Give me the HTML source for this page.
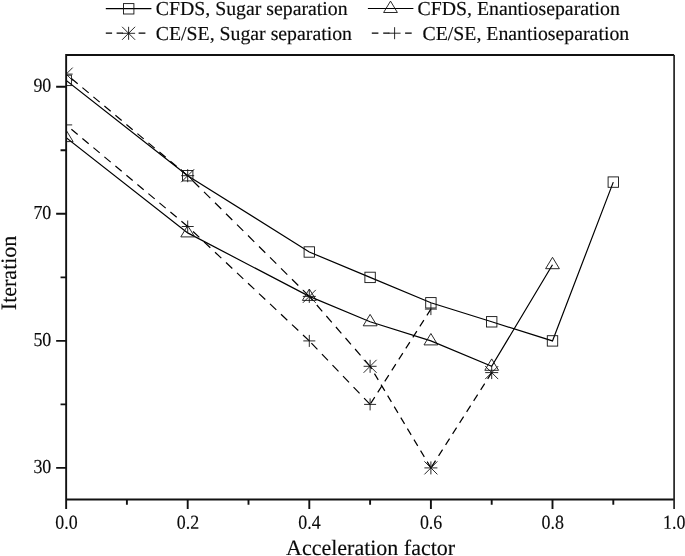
<!DOCTYPE html>
<html><head><meta charset="utf-8"><title>Iteration vs Acceleration factor</title>
<style>
html,body{margin:0;padding:0;background:#fff;}
body{width:685px;height:556px;overflow:hidden;}
svg{display:block;}
text{font-family:"Liberation Serif","Times New Roman",serif;fill:#0a0a0a;stroke:#0a0a0a;stroke-width:0.15px;text-rendering:geometricPrecision;}
.lg{font-size:19.8px;}
.tk{font-size:19.8px;}
.ax{font-size:22px;}
</style></head><body>
<svg width="685" height="556" viewBox="0 0 685 556">
<rect width="685" height="556" fill="#fff"/>

<defs><clipPath id="cp"><rect x="66.15" y="55.0" width="607.95" height="444.55"/></clipPath></defs>
<g clip-path="url(#cp)" fill="none" stroke="#000">
<g stroke-width="1.2">
<polyline points="66.2,80.4 187.7,175.7 309.3,252.0 370.1,277.4 430.9,302.8 491.7,321.8 552.5,340.9 613.3,182.1"/>
<polyline points="66.2,137.6 187.7,232.9 309.3,296.4 370.1,321.8 430.9,340.9 491.7,366.3 552.5,264.7"/>
<path d="M187.7 175.7L66.2 74.1" stroke-dasharray="8.21 6.13"/>
<path d="M309.3 296.4L187.7 175.7" stroke-dasharray="8.88 6.62"/>
<path d="M370.1 366.3L309.3 296.4" stroke-dasharray="8.35 6.23"/>
<path d="M430.9 467.9L370.1 366.3" stroke-dasharray="7.34 5.48"/>
<path d="M491.7 372.6L430.9 467.9" stroke-dasharray="7.47 5.58"/>
<path d="M187.7 226.5L66.2 124.9" stroke-dasharray="8.21 6.13"/>
<path d="M309.3 340.9L187.7 226.5" stroke-dasharray="8.65 6.45"/>
<path d="M370.1 404.4L309.3 340.9" stroke-dasharray="8.72 6.51"/>
<path d="M430.9 309.1L370.1 404.4" stroke-dasharray="7.47 5.58"/>
</g>
<g stroke-width="0.9" stroke="#111">
<rect x="61.0" y="75.2" width="10.4" height="10.4"/>
<rect x="182.5" y="170.5" width="10.4" height="10.4"/>
<rect x="304.1" y="246.8" width="10.4" height="10.4"/>
<rect x="364.9" y="272.2" width="10.4" height="10.4"/>
<rect x="425.7" y="297.6" width="10.4" height="10.4"/>
<rect x="486.5" y="316.6" width="10.4" height="10.4"/>
<rect x="547.3" y="335.7" width="10.4" height="10.4"/>
<rect x="608.1" y="176.9" width="10.4" height="10.4"/>
<path d="M66.2 130.2L73.1 141.6L59.2 141.6Z"/>
<path d="M187.7 225.5L194.7 236.9L180.8 236.9Z"/>
<path d="M309.3 289.0L316.3 300.4L302.4 300.4Z"/>
<path d="M370.1 314.4L377.1 325.8L363.2 325.8Z"/>
<path d="M430.9 333.5L437.8 344.9L424.0 344.9Z"/>
<path d="M491.7 358.9L498.6 370.3L484.8 370.3Z"/>
<path d="M552.5 257.3L559.4 268.7L545.6 268.7Z"/>
<path d="M59.7 74.1H72.7M66.2 67.6V80.6M59.7 67.6L72.7 80.6M59.7 80.6L72.7 67.6"/>
<path d="M181.2 175.7H194.2M187.7 169.2V182.2M181.2 169.2L194.2 182.2M181.2 182.2L194.2 169.2"/>
<path d="M302.8 296.4H315.8M309.3 289.9V302.9M302.8 289.9L315.8 302.9M302.8 302.9L315.8 289.9"/>
<path d="M363.6 366.3H376.6M370.1 359.8V372.8M363.6 359.8L376.6 372.8M363.6 372.8L376.6 359.8"/>
<path d="M424.4 467.9H437.4M430.9 461.4V474.4M424.4 461.4L437.4 474.4M424.4 474.4L437.4 461.4"/>
<path d="M485.2 372.6H498.2M491.7 366.1V379.1M485.2 366.1L498.2 379.1M485.2 379.1L498.2 366.1"/>
<path d="M60.2 124.9H72.2M66.2 118.9V130.9"/>
<path d="M181.7 226.5H193.7M187.7 220.5V232.5"/>
<path d="M303.3 340.9H315.3M309.3 334.9V346.9"/>
<path d="M364.1 404.4H376.1M370.1 398.4V410.4"/>
<path d="M424.9 309.1H436.9M430.9 303.1V315.1"/>
</g></g>
<g fill="none" stroke="#111" stroke-width="1.9">
<path d="M66.15 509.05V55.0H674.1"/>
<path d="M66.15 499.55H674.1"/>
<path d="M674.1 55.0V509.05" stroke-width="1.7" stroke="#222"/>
<path d="M126.9 499.55v5.3M187.7 499.55v9.5M248.5 499.55v5.3M309.3 499.55v9.5M370.1 499.55v5.3M430.9 499.55v9.5M491.7 499.55v5.3M552.5 499.55v9.5M613.3 499.55v5.3M66.15 467.9h-10M66.15 404.4h-5.6M66.15 340.9h-10M66.15 277.4h-5.6M66.15 213.8h-10M66.15 150.3h-5.6M66.15 86.8h-10"/>
</g>
<text class="tk" transform="translate(66.4 528.7) scale(0.905 1) rotate(0.03)" text-anchor="middle">0.0</text>
<text class="tk" transform="translate(187.9 528.7) scale(0.905 1) rotate(0.03)" text-anchor="middle">0.2</text>
<text class="tk" transform="translate(309.5 528.7) scale(0.905 1) rotate(0.03)" text-anchor="middle">0.4</text>
<text class="tk" transform="translate(431.1 528.7) scale(0.905 1) rotate(0.03)" text-anchor="middle">0.6</text>
<text class="tk" transform="translate(552.7 528.7) scale(0.905 1) rotate(0.03)" text-anchor="middle">0.8</text>
<text class="tk" transform="translate(674.3 528.7) scale(0.905 1) rotate(0.03)" text-anchor="middle">1.0</text>
<text class="tk" transform="translate(51.3 472.97) scale(0.905 1) rotate(0.03)" text-anchor="end">30</text>
<text class="tk" transform="translate(51.3 345.93) scale(0.905 1) rotate(0.03)" text-anchor="end">50</text>
<text class="tk" transform="translate(51.3 218.89) scale(0.905 1) rotate(0.03)" text-anchor="end">70</text>
<text class="tk" transform="translate(51.3 91.85) scale(0.905 1) rotate(0.03)" text-anchor="end">90</text>
<text class="ax" x="370.6" y="555.2" text-anchor="middle">Acceleration factor</text>
<text class="ax" transform="translate(16.25 272.9) rotate(-90)" text-anchor="middle">Iteration</text>
<g fill="none" stroke="#000" stroke-width="1.2">
<path d="M105.8 8.7H151.4M367.9 8.5H413.4"/>
<path d="M105.8 33.2h6.3m4.5 0h6.3M138.6 33.2h6.8"/>
<path d="M371.8 33.1h6.6m4.8 0h6.2M405.1 33.1h6.6"/>
</g>
<g fill="none" stroke="#111" stroke-width="0.9">
<rect x="123.5" y="3.6" width="10.4" height="10.4"/>
<path d="M390.5 1.1L397.4 12.5L383.6 12.5Z"/>
<path d="M122.1 33.3H135.1M128.6 26.8V39.8M122.1 26.8L135.1 39.8M122.1 39.8L135.1 26.8"/>
<path d="M388.6 33.2H400.6M394.6 27.2V39.2"/>
</g>
<text class="lg" x="155.8" y="15">CFDS, Sugar separation</text>
<text class="lg" x="155.8" y="40">CE/SE, Sugar separation</text>
<text class="lg" x="417.6" y="15">CFDS, Enantioseparation</text>
<text class="lg" x="422.6" y="40">CE/SE, Enantioseparation</text>
</svg></body></html>
